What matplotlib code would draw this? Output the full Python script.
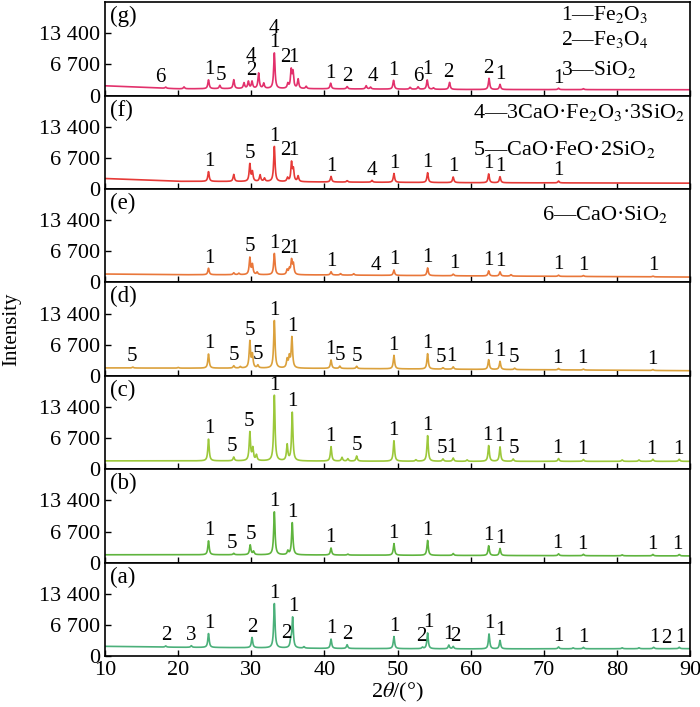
import numpy as np
import matplotlib.pyplot as plt

plt.rcParams["font.family"] = ["Liberation Serif", "DejaVu Serif"]
plt.rcParams["mathtext.fontset"] = "stix"
plt.rcParams["font.size"] = 15

# 2theta grid and background anchor positions
two_theta = np.arange(10, 90.001, 0.02)
base_x = [10, 20, 30, 40, 60, 90]

panel_names = ["(g)", "(f)", "(e)", "(d)", "(c)", "(b)", "(a)"]
colors = ["#e2316c", "#e63a37", "#e9773a", "#dba13c", "#9cc83a", "#5fb43e", "#4bb07a"]

# ---- background levels ----
base_g = [2100, 1450, 1500, 1450, 1300, 1250]
base_f = [2250, 1650, 1600, 1500, 1350, 1250]
base_e = [1800, 1650, 1650, 1600, 1400, 1150]
base_d = [1700, 1650, 1650, 1600, 1400, 1100]
base_c = [1800, 1800, 1800, 1750, 1700, 1700]
base_b = [1700, 1700, 1700, 1650, 1550, 1450]
base_a = [2100, 1900, 1800, 1650, 1550, 1600]

# ---- peak positions and heights above background ----
pos_g = [18.3, 20.8, 24.15, 25.7, 27.6, 29.0, 29.6, 30.1, 31.0, 31.7, 33.15, 35.0, 35.45, 35.7,
         36.4, 37.5, 40.85, 43.1, 45.7, 46.3, 49.45, 51.7, 52.8, 54.05, 54.9, 57.1, 62.5, 64.0, 72.0, 75.4]
hgt_g = [250, 400, 1900, 700, 1900, 1200, 1500, 1500, 3300, 1100, 7700, 1000, 3800, 3400,
         2000, 500, 1200, 500, 700, 400, 1900, 400, 500, 2000, 300, 1500, 2400, 1100, 300, 200]

pos_f = [24.15, 27.6, 29.8, 30.15, 31.2, 31.8, 33.15, 34.95, 35.5, 35.75, 36.4, 40.9, 43.1,
         46.5, 49.5, 54.1, 57.6, 62.45, 64.0, 72.0]
hgt_f = [2100, 1500, 3700, 2000, 1400, 700, 7600, 800, 4000, 2500, 1200, 1200, 300,
         400, 1900, 2100, 1200, 1900, 1300, 400]

pos_e = [24.15, 27.6, 28.3, 29.8, 30.15, 30.8, 33.15, 34.9, 35.2, 35.5, 35.75, 40.9, 42.2, 44.0,
         49.5, 54.1, 57.6, 62.45, 64.0, 65.5, 72.0, 75.4, 84.9]
hgt_e = [1400, 400, 300, 3600, 2100, 500, 4600, 1000, 1100, 3000, 2200, 700, 300, 300,
         1150, 1650, 350, 1100, 900, 300, 250, 200, 150]

pos_d = [13.8, 20.0, 24.15, 27.6, 28.5, 29.8, 30.15, 30.9, 33.15, 34.9, 35.2, 35.55, 40.9, 42.1,
         44.4, 49.5, 54.1, 56.2, 57.6, 62.45, 64.0, 66.0, 72.0, 75.4, 84.9]
hgt_d = [200, 150, 3050, 500, 300, 5700, 2800, 600, 10300, 1800, 2300, 6600, 1800, 500,
         500, 2900, 3300, 300, 500, 2100, 1750, 300, 300, 200, 200]

pos_c = [24.15, 27.6, 29.8, 30.2, 30.7, 33.15, 34.9, 35.6, 40.9, 42.4, 43.2, 44.4, 49.5, 52.5,
         54.1, 56.2, 57.6, 59.5, 62.45, 64.0, 65.8, 72.0, 75.4, 80.7, 83.0, 84.9, 88.5]
hgt_c = [4700, 800, 6100, 2600, 1200, 14200, 3400, 10400, 3100, 800, 500, 1100, 4400, 300,
         5500, 500, 700, 300, 3400, 3100, 500, 600, 400, 300, 300, 450, 450]

pos_b = [24.15, 27.6, 29.85, 30.3, 33.15, 35.0, 35.6, 40.9, 43.2, 49.5, 54.1, 57.6, 62.45, 64.0,
         72.0, 75.4, 80.7, 84.9, 88.5]
hgt_b = [3000, 300, 2100, 700, 9300, 800, 6900, 1500, 200, 2500, 3200, 400, 2100, 1500,
         400, 300, 200, 300, 300]

pos_a = [18.3, 21.8, 24.15, 30.1, 33.15, 35.4, 35.65, 37.2, 40.9, 43.1, 49.5, 53.4, 54.1, 57.0,
         57.6, 62.5, 64.0, 72.0, 74.0, 75.4, 80.7, 83.0, 85.0, 88.5]
hgt_a = [250, 350, 3000, 2200, 9600, 1500, 6500, 300, 2000, 800, 2600, 300, 3400, 800,
         500, 3200, 1800, 400, 200, 300, 200, 200, 300, 300]

# ---- phase labels: (2theta, text, stack level, search half-width) ----
labels_g = [(17.5, "6"), (24.2, "1"), (25.9, "5"), (30.0, "2"), (30.0, "4", 1), (33.15, "1"),
            (33.15, "4", 1), (34.7, "2", 0, 1.0), (35.75, "1"), (40.85, "1"), (43.1, "2"),
            (46.6, "4"), (49.45, "1"), (52.8, "6"), (54.1, "1"), (57.0, "2"), (62.4, "2"),
            (64.0, "1"), (72.0, "1")]
labels_f = [(24.2, "1"), (29.8, "5"), (33.15, "1"), (34.7, "2", 0, 1.0), (35.75, "1"), (40.9, "1"),
            (46.5, "4"), (49.5, "1"), (54.1, "1"), (57.6, "1"), (62.4, "1"), (64.0, "1"), (72.0, "1")]
labels_e = [(24.2, "1"), (29.8, "5"), (33.15, "1"), (34.7, "2", 0, 1.0), (35.75, "1"), (40.9, "1"),
            (47.0, "4"), (49.5, "1"), (54.1, "1"), (57.7, "1"), (62.4, "1"), (64.0, "1"),
            (72.0, "1"), (75.4, "1"), (84.9, "1")]
labels_d = [(13.7, "5"), (24.2, "1"), (27.6, "5"), (29.8, "5"), (30.9, "5"), (33.15, "1"),
            (35.6, "1"), (40.85, "1"), (42.1, "5"), (44.4, "5"), (49.45, "1"), (54.05, "1"),
            (55.9, "5"), (57.4, "1"), (62.35, "1"), (64.0, "1"), (65.9, "5"), (71.9, "1"),
            (75.3, "1"), (84.8, "1")]
labels_c = [(24.2, "1"), (27.4, "5"), (29.7, "5"), (33.15, "1"), (35.6, "1"), (40.8, "1"),
            (44.4, "5"), (49.4, "1"), (54.1, "1"), (56.1, "5"), (57.4, "1"), (62.3, "1"),
            (63.95, "1"), (65.9, "5"), (71.8, "1"), (75.2, "1"), (84.7, "1"), (88.4, "1")]
labels_b = [(24.2, "1"), (27.4, "5"), (29.9, "5"), (33.15, "1"), (35.6, "1"), (40.85, "1"),
            (49.45, "1"), (54.05, "1"), (62.4, "1"), (64.0, "1"), (71.9, "1"), (75.3, "1"),
            (84.8, "1"), (88.2, "1")]
labels_a = [(18.4, "2"), (21.8, "3"), (24.2, "1"), (30.1, "2"), (33.15, "1"), (34.75, "2", 0, 0.5),
            (35.8, "1"), (40.9, "1"), (43.1, "2"), (49.5, "1"), (53.2, "2"), (54.2, "1"),
            (57.0, "1"), (57.9, "2"), (62.5, "1"), (64.1, "1"), (72.0, "1"), (75.4, "1"),
            (85.1, "1"), (86.8, "2"), (88.6, "1")]

bases = [base_g, base_f, base_e, base_d, base_c, base_b, base_a]
positions = [pos_g, pos_f, pos_e, pos_d, pos_c, pos_b, pos_a]
heights = [hgt_g, hgt_f, hgt_e, hgt_d, hgt_c, hgt_b, hgt_a]
labels = [labels_g, labels_f, labels_e, labels_d, labels_c, labels_b, labels_a]

# phase key text, split over the three top panels
legend_g = ["1—Fe$_2$O$_3$", "2—Fe$_3$O$_4$", "3—SiO$_2$"]
legend_f = ["4—3CaO·Fe$_2$O$_3$·3SiO$_2$", "5—CaO·FeO·2SiO$_2$"]
legend_e = ["6—CaO·SiO$_2$"]


def pattern(base, pos, hgt, hw=0.11):
    y = np.interp(two_theta, base_x, base)
    for p, h in zip(pos, hgt):
        y = y + h / (1 + ((two_theta - p) / hw) ** 2)
    return y


def put_labels(ax, y, items):
    for item in items:
        x, txt = item[0], item[1]
        level = item[2] if len(item) > 2 else 0
        half = item[3] if len(item) > 3 else 0.3
        m = (two_theta >= x - half) & (two_theta <= x + half)
        top = y[m].max()
        ax.annotate(txt, (x, top), xytext=(0, 0.5 + 10.5 * level), textcoords="offset points",
                    ha="center", va="bottom", fontsize=15)


fig, axes = plt.subplots(7, 1, sharex=True, figsize=(7, 7.07), dpi=100)
fig.subplots_adjust(left=0.15, right=0.986, top=0.997, bottom=0.072, hspace=0)

for ax, name, col, base, pos, hgt, lab in zip(axes, panel_names, colors, bases, positions, heights, labels):
    y = pattern(base, pos, hgt)
    ax.plot(two_theta, y, color=col, lw=1.2)
    put_labels(ax, y, lab)
    ax.set_xlim(10, 90)
    ax.set_ylim(0, 20100)
    ax.set_yticks([0, 6700, 13400])
    ax.set_yticklabels(["0", "6 700", "13 400"])
    ax.set_xticks(np.arange(10, 91, 10))
    ax.tick_params(direction="in", length=4.5, width=1.0, labelsize=16)
    for s in ax.spines.values():
        s.set_linewidth(1.2)
    ax.text(0.009, 0.786, name, transform=ax.transAxes, va="baseline", ha="left", fontsize=16.5)

for txt, yy in zip(legend_g, [0.807, 0.54, 0.218]):
    axes[0].text(0.78, yy, txt, transform=axes[0].transAxes, va="baseline", ha="left", fontsize=15.5)
for txt, yy in zip(legend_f, [0.76, 0.36]):
    axes[1].text(0.629, yy, txt, transform=axes[1].transAxes, va="baseline", ha="left", fontsize=16)
for txt, yy in zip(legend_e, [0.67]):
    axes[2].text(0.747, yy, txt, transform=axes[2].transAxes, va="baseline", ha="left", fontsize=16)

axes[-1].set_xlabel(r"2$\theta$/(°)", fontsize=16, labelpad=1)
fig.text(0.017, 0.535, "Intensity", rotation=90, va="center", ha="center", fontsize=15)

fig.savefig("out.png", dpi=100)
